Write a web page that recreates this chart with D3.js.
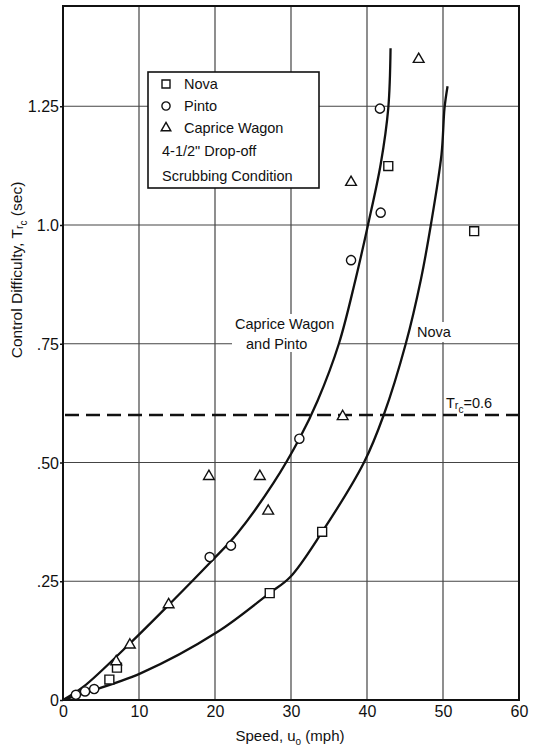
<!DOCTYPE html>
<html><head><meta charset="utf-8">
<script src="https://cdn.jsdelivr.net/npm/d3@7"></script>
<style>
body{margin:0;background:#fff;}
svg{display:block;font-family:"Liberation Sans",Arial,sans-serif;}
</style></head>
<body><svg id="c" width="534" height="748"></svg>
<script>
// ---- data ----
const xTicks = [0,10,20,30,40,50,60];
const yTicks = [0,0.25,0.5,0.75,1.0,1.25];
const yTickLabels = ["0",".25",".50",".75","1.0","1.25"];
const novaPts = [[6.1,0.043],[7.1,0.068],[27.2,0.225],[34.1,0.354],[42.8,1.124],[54.1,0.987]];
const pintoPts = [[1.7,0.011],[2.9,0.018],[4.1,0.023],[19.3,0.301],[22.1,0.325],[31.1,0.55],[37.9,0.926],[41.8,1.026],[41.7,1.245]];
const capricePts = [[7.0,0.083],[8.8,0.118],[13.9,0.203],[19.2,0.473],[25.9,0.473],[27.0,0.40],[36.8,0.599],[37.9,1.092],[46.8,1.351]];
const capPintoCurve = [[0,0],[2.7,0.028],[8.8,0.119],[13.9,0.2],[19.4,0.29],[22.9,0.35],[27.7,0.457],[31.1,0.55],[33.5,0.63],[36.3,0.75],[38.5,0.886],[40.1,0.998],[41.8,1.128],[42.8,1.246],[43.1,1.372]];
const novaCurve = [[0,0],[2.7,0.014],[10.2,0.056],[20.3,0.143],[27.1,0.224],[29.9,0.259],[34.1,0.354],[39.6,0.5],[42.2,0.6],[45.1,0.75],[47.1,0.886],[48.4,1.0],[49.8,1.148],[50.2,1.246],[50.6,1.292]];
const threshold = 0.6;
const legendItems = [["square","Nova"],["circle","Pinto"],["triangle","Caprice Wagon"]];
const legendNotes = ["4-1/2\" Drop-off","Scrubbing  Condition"];

// ---- layout ----
const L=63, R=519, T=6, B=700;
const svg=d3.select("#c");
const x=d3.scaleLinear().domain([0,60]).range([L,R]);
const y=d3.scaleLinear().domain([0,(B-T)/475]).range([B,T]);

// grid
const g=svg.append("g");
g.selectAll("line.v").data(xTicks.filter(d=>d>0&&d<60)).enter().append("line")
 .attr("x1",d=>x(d)).attr("x2",d=>x(d)).attr("y1",T).attr("y2",B)
 .attr("stroke","#444").attr("stroke-width",1.2);
g.selectAll("line.h").data(yTicks.filter(d=>d>0)).enter().append("line")
 .attr("x1",L).attr("x2",R).attr("y1",d=>y(d)).attr("y2",d=>y(d))
 .attr("stroke","#444").attr("stroke-width",1.2);

// axes
const xa=svg.append("g").attr("transform",`translate(0,${B})`)
 .call(d3.axisBottom(x).tickValues(xTicks).tickSize(0).tickPadding(6));
const ya=svg.append("g").attr("transform",`translate(${L},0)`)
 .call(d3.axisLeft(y).tickValues(yTicks).tickSize(3).tickPadding(1).tickFormat((d,i)=>yTickLabels[i]));
[xa,ya].forEach(a=>{a.select(".domain").remove();a.selectAll("text").attr("font-size",16).attr("fill","#111").attr("font-family","Liberation Sans, Arial, sans-serif");a.selectAll("line").attr("stroke","#111").attr("stroke-width",1.5);});
ya.selectAll("text").attr("dy","0.35em");

// frame
svg.append("rect").attr("x",L).attr("y",T).attr("width",R-L).attr("height",B-T)
 .attr("fill","none").attr("stroke","#111").attr("stroke-width",2);

// threshold dashed line
svg.append("line").attr("x1",L+2).attr("x2",R).attr("y1",y(threshold)).attr("y2",y(threshold))
 .attr("stroke","#111").attr("stroke-width",2.6).attr("stroke-dasharray","14,7");

// label backgrounds
svg.append("rect").attr("x",232).attr("y",314).attr("width",108).attr("height",38).attr("fill","#fff");
svg.append("rect").attr("x",414).attr("y",322).attr("width",40).attr("height",20).attr("fill","#fff");

// curves
const line=d3.line().x(d=>x(d[0])).y(d=>y(d[1])).curve(d3.curveCatmullRom.alpha(0.5));
[capPintoCurve,novaCurve].forEach(c=>svg.append("path").attr("d",line(c))
 .attr("fill","none").attr("stroke","#111").attr("stroke-width",2.3));

// markers
const sym={square:d3.symbolSquare,circle:d3.symbolCircle,triangle:d3.symbolTriangle};
const size={square:80,circle:66,triangle:50};
function marks(pts,type){
 svg.append("g").selectAll("path").data(pts).enter().append("path")
  .attr("d",d3.symbol().type(sym[type]).size(size[type]))
  .attr("transform",d=>`translate(${x(d[0])},${y(d[1])+(type==="triangle"?1:0)})`)
  .attr("fill","#fff").attr("stroke","#111").attr("stroke-width",1.4);
}
marks(novaPts,"square");marks(pintoPts,"circle");marks(capricePts,"triangle");

// legend
const lg=svg.append("g");
lg.append("rect").attr("x",148).attr("y",72).attr("width",171).attr("height",116)
 .attr("fill","#fff").attr("stroke","#111").attr("stroke-width",1.6);
legendItems.forEach((it,i)=>{
 const yy=84+i*22;
 lg.append("path").attr("d",d3.symbol().type(sym[it[0]]).size(size[it[0]]*0.8))
  .attr("transform",`translate(166,${yy})`).attr("fill","#fff").attr("stroke","#111").attr("stroke-width",1.4);
 lg.append("text").attr("x",184).attr("y",yy+5).attr("font-size",14.5).attr("fill","#111").text(it[1]);
});
legendNotes.forEach((t,i)=>{
 lg.append("text").attr("x",162).attr("y",156+i*25).attr("font-size",14.5).attr("fill","#111").text(t);
});

// annotations
const ann=svg.append("g").attr("font-size",14.5).attr("fill","#111");
ann.append("text").attr("x",235).attr("y",329).text("Caprice Wagon");
ann.append("text").attr("x",246).attr("y",349).text("and Pinto");
ann.append("text").attr("x",417).attr("y",337).text("Nova");
const tt=ann.append("text").attr("x",446).attr("y",408);
tt.append("tspan").text("T");
tt.append("tspan").attr("font-size",11).attr("dy",1).text("r");
tt.append("tspan").attr("font-size",10).attr("dy",4).text("c");
tt.append("tspan").attr("dy",-5).text("=0.6");

// axis titles
const xt=svg.append("text").attr("x",290).attr("y",741).attr("text-anchor","middle").attr("font-size",15).attr("fill","#111");
xt.append("tspan").text("Speed, u");
xt.append("tspan").attr("font-size",10).attr("dy",4).text("o");
xt.append("tspan").attr("dy",-4).text(" (mph)");
const yt=svg.append("text").attr("transform","translate(22,270) rotate(-90)").attr("text-anchor","middle").attr("font-size",15.5).attr("fill","#111");
yt.append("tspan").text("Control Difficulty, T");
yt.append("tspan").attr("font-size",11).attr("dy",1).text("r");
yt.append("tspan").attr("font-size",10).attr("dy",4).text("c");
yt.append("tspan").attr("dy",-5).text(" (sec)");
</script></body></html>
